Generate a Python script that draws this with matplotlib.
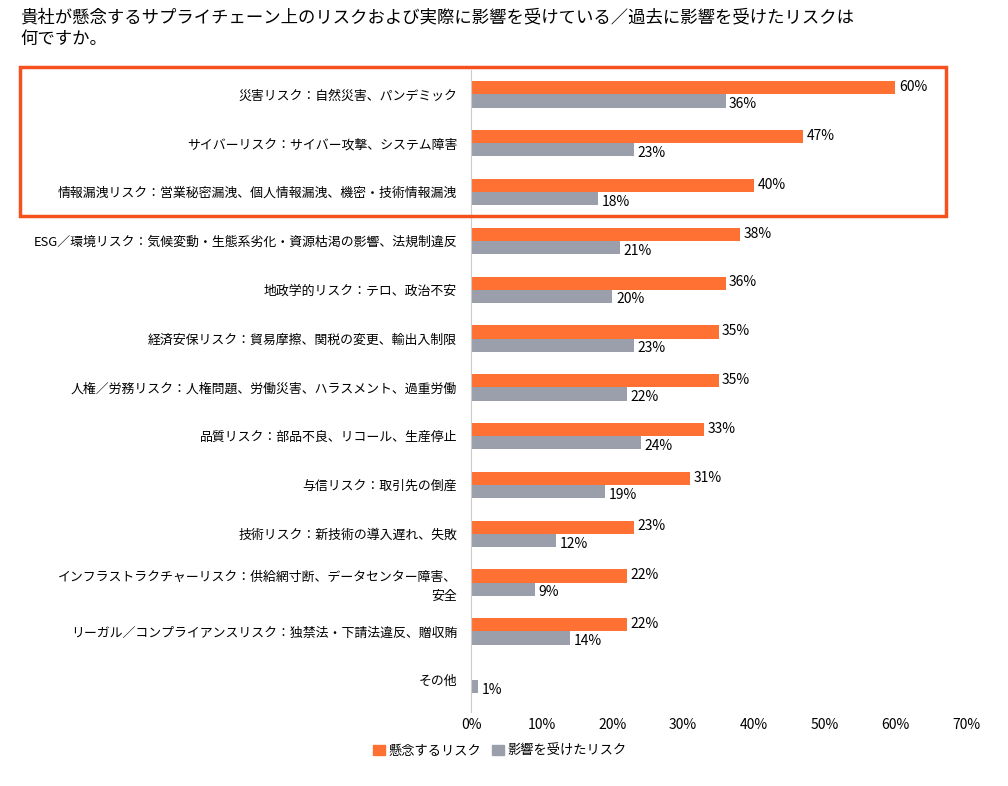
import matplotlib
matplotlib.use("Agg")
import matplotlib.pyplot as plt
from matplotlib.patches import Rectangle, Patch
import numpy as np

plt.rcParams['font.family'] = ['Noto Sans CJK JP', 'DejaVu Sans']

categories = ["災害リスク：自然災害、パンデミック",
              "サイバーリスク：サイバー攻撃、システム障害",
              "情報漏洩リスク：営業秘密漏洩、個人情報漏洩、機密・技術情報漏洩",
              "ESG／環境リスク：気候変動・生態系劣化・資源枯渇の影響、法規制違反",
              "地政学的リスク：テロ、政治不安",
              "経済安保リスク：貿易摩擦、関税の変更、輸出入制限",
              "人権／労務リスク：人権問題、労働災害、ハラスメント、過重労働",
              "品質リスク：部品不良、リコール、生産停止",
              "与信リスク：取引先の倒産",
              "技術リスク：新技術の導入遅れ、失敗",
              "インフラストラクチャーリスク：供給網寸断、データセンター障害、\n安全",
              "リーガル／コンプライアンスリスク：独禁法・下請法違反、贈収賄",
              "その他"]
concern = [60, 47, 40, 38, 36, 35, 35, 33, 31, 23, 22, 22, None]
affected = [36, 23, 18, 21, 20, 23, 22, 24, 19, 12, 9, 14, 1]
series_names = ["懸念するリスク", "影響を受けたリスク"]
title = "貴社が懸念するサプライチェーン上のリスクおよび実際に影響を受けている／過去に影響を受けたリスクは\n何ですか。"

ORANGE = "#FF7033"
GRAY = "#9A9FAB"

fig = plt.figure(figsize=(10.08, 7.86), dpi=100)
ax = fig.add_axes([471/1008, 1-712/786, (966-471)/1008, 642/786])
y = np.arange(len(categories))
h = 0.27
for i in y:
    if concern[i] is not None:
        ax.barh(i - 0.135, concern[i], height=h, color=ORANGE)
        ax.text(concern[i] + 0.5, i - 0.15, f"{concern[i]}%", va="center", fontsize=10)
    ax.barh(i + 0.135, affected[i], height=h, color=GRAY)
    ax.text(affected[i] + 0.5, i + 0.2, f"{affected[i]}%", va="center", fontsize=10)
ax.set_ylim(len(categories) - 0.35, -0.5)
ax.set_xlim(0, 70)
ax.set_xticks(range(0, 71, 10))
ax.set_xticklabels([f"{v}%" for v in range(0, 71, 10)], fontsize=10)
ax.set_yticks(y)
ax.set_yticklabels(categories, fontsize=9.3, linespacing=1.6)
ax.tick_params(axis="y", length=0, pad=10)
ax.tick_params(axis="x", length=0, pad=4)
for s in ["top", "right", "bottom"]:
    ax.spines[s].set_visible(False)
ax.spines["left"].set_color("#CCCCCC")

fig.text(20/1008, 1-8/786, title, fontsize=12.5, va="top", ha="left", linespacing=1.25)
fig.patches.append(Rectangle((20/1008, 1-216/786), 926/1008, 149/786,
                             transform=fig.transFigure, fill=False,
                             edgecolor="#F4511E", linewidth=2.5))
fig.legend(handles=[Patch(color=ORANGE), Patch(color=GRAY)], labels=series_names,
           loc="center", bbox_to_anchor=(500/1008, 1-751/786), ncol=2, frameon=False,
           fontsize=9.5, handlelength=0.9, handleheight=0.9, columnspacing=0.8, handletextpad=0.3)
fig.savefig("out.png", dpi=100)
